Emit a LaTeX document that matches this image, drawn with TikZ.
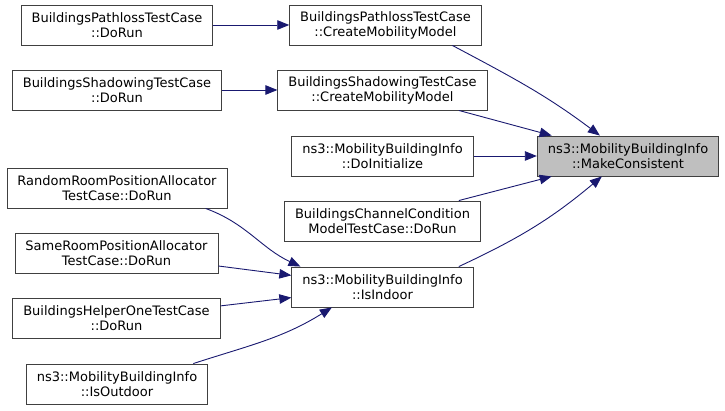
\documentclass[tikz,border=0pt]{standalone}
\usepackage{fontspec}
\setmainfont{DejaVu Sans}
\usetikzlibrary{arrows.meta}
\definecolor{midnight}{HTML}{191970}
\definecolor{frame}{HTML}{404040}
\definecolor{hlgray}{HTML}{BFBFBF}
\begin{document}
\begin{tikzpicture}[x=1pt,y=1pt,
  box/.style={shape=rectangle,draw=frame,fill=white,line width=0.9pt,minimum height=40pt,
    inner xsep=10.5pt,align=center,font=\fontsize{13}{15}\selectfont},
  hl/.style={box,fill=hlgray},
  link/.style={draw=midnight,line width=0.9pt,-{Triangle[length=12pt,width=9.5pt]}}]
\useasboundingbox (0,0) rectangle (725,-411);
\node(n0) at (628,-156)[hl]      {ns3::MobilityBuildingInfo\\::MakeConsistent};
\node(n1) at (385.5,-25)[box]    {BuildingsPathlossTestCase\\::CreateMobilityModel};
\node(n2) at (117,-25)[box]      {BuildingsPathlossTestCase\\::DoRun};
\node(n3) at (382.5,-90)[box]    {BuildingsShadowingTestCase\\::CreateMobilityModel};
\node(n4) at (117,-90)[box]      {BuildingsShadowingTestCase\\::DoRun};
\node(n5) at (382.5,-156)[box]   {ns3::MobilityBuildingInfo\\::DoInitialize};
\node(n6) at (382.5,-221)[box]   {BuildingsChannelCondition\\ModelTestCase::DoRun};
\node(n7) at (382.5,-287)[box]   {ns3::MobilityBuildingInfo\\::IsIndoor};
\node(n8) at (117,-188)[box]     {RandomRoomPositionAllocator\\TestCase::DoRun};
\node(n9) at (116.5,-253)[box]   {SameRoomPositionAllocator\\TestCase::DoRun};
\node(n10) at (116.5,-318)[box]  {BuildingsHelperOneTestCase\\::DoRun};
\node(n11) at (117,-384)[box]    {ns3::MobilityBuildingInfo\\::IsOutdoor};
\path
  (n1.-17)    edge [link,out=-28,in=143]   (n0.144)
  (n3.-15)    edge [link]                  (n0.165)
  (n5)        edge [link]                  (n0)
  (n6.15)     edge [link]                  (n0.195)
  (n7.15)     edge [link,out=25,in=-140]   (n0.218)
  (n2)        edge [link]                  (n1)
  (n4)        edge [link]                  (n3)
  (n8.-13.5)  edge [link,out=-20,in=155]   (n7.166)
  (n9)        edge [link]                  (n7)
  (n10)       edge [link]                  (n7)
  (n11.15)    edge [link,out=18,in=-148]   (n7.202);
\end{tikzpicture}
\end{document}
